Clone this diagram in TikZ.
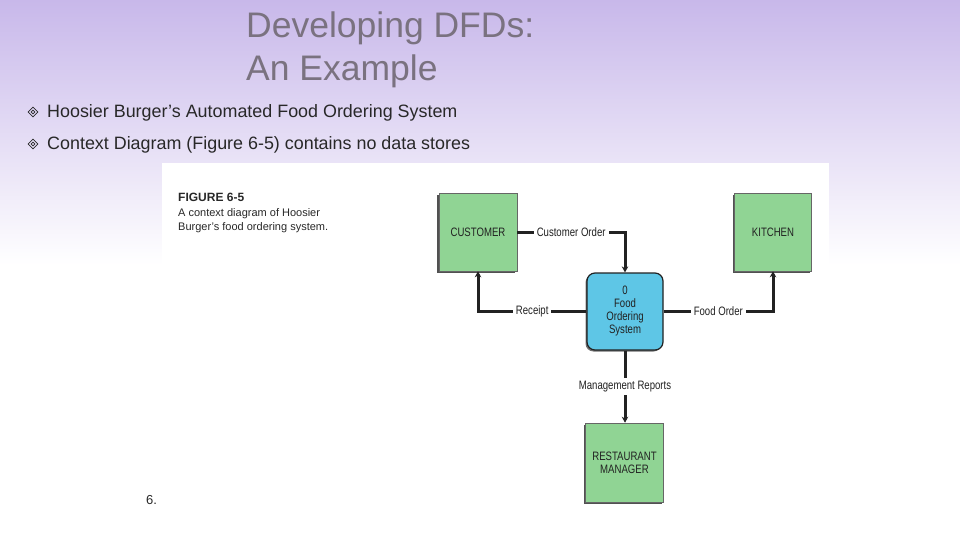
\documentclass[tikz,border=0pt]{standalone}
\usepackage{fontspec}
\usepackage{graphicx}
\setmainfont{Liberation Sans}
\usetikzlibrary{arrows.meta,shapes.geometric,shadows}
\definecolor{bgtop}{RGB}{200,184,234}
\definecolor{titlegray}{RGB}{122,114,128}
\definecolor{bodyink}{RGB}{40,40,40}
\definecolor{dfdgreen}{RGB}{144,212,148}
\definecolor{dfdblue}{RGB}{94,198,230}
\definecolor{ink}{RGB}{34,34,34}
\newcommand\talltxt[1]{\scalebox{0.96}[1.22]{#1}}
\tikzset{
  titletext/.style={anchor=base west, inner sep=0pt, text=titlegray, font=\fontsize{35.5}{40}\selectfont},
  bullettext/.style={anchor=base west, inner sep=0pt, text=bodyink, font=\fontsize{17.9}{20}\selectfont},
  bulletmark/.style={diamond, draw=bodyink, line width=0.7pt, minimum size=10pt, inner sep=0pt},
  bulletinner/.style={diamond, draw=bodyink, line width=0.6pt, minimum size=4pt, inner sep=0pt},
  captext/.style={anchor=base west, inner sep=0pt, text=bodyink, font=\fontsize{11}{13}\selectfont},
  extent/.style={rectangle, fill=dfdgreen, draw=black!60, line width=0.6pt,
    drop shadow={shadow xshift=-2pt, shadow yshift=-2pt, opacity=0.85, fill=black!80},
    text=ink, font=\fontsize{10}{13}\selectfont, align=center},
  process/.style={rectangle, rounded corners=8pt, fill=dfdblue, draw=ink, line width=1.2pt,
    drop shadow={shadow xshift=-1.5pt, shadow yshift=-1.5pt, opacity=0.7, fill=black!80},
    text=ink, font=\fontsize{10}{13}\selectfont, align=center},
  flow/.style={draw=ink, line width=3pt, -{Stealth[length=6pt,width=6.5pt]}},
  flowlab/.style={fill=white, inner xsep=3pt, inner ysep=1pt, text=ink, font=\fontsize{10}{12}\selectfont}
}
\begin{document}
\begin{tikzpicture}[x=1pt,y=-1pt]
\useasboundingbox (0,0) rectangle (960,540);
\shade[top color=bgtop, bottom color=white] (0,0) rectangle (960,265);
\fill[white] (162,163) rectangle (829,540);

% title
\node[titletext] (t1) at (246,38) {Developing DFDs:};
\node[titletext] (t2) at (246,81) {An Example};

% bullets
\node[bulletmark] (b1) at (33,112) {};
\node[bulletinner] (b1i) at (b1.center) {};
\node[bullettext] (l1) at (47,118) {Hoosier Burger’s Automated Food Ordering System};
\node[bulletmark] (b2) at (33,144) {};
\node[bulletinner] (b2i) at (b2.center) {};
\node[bullettext] (l2) at (47,150) {Context Diagram (Figure 6-5) contains no data stores};

% caption
\node[captext, font=\bfseries\fontsize{12}{14}\selectfont] (fig) at (178,201) {FIGURE 6-5};
\node[captext] (c1) at (178,216) {A context diagram of Hoosier};
\node[captext] (c2) at (178,230) {Burger’s food ordering system.};

% page number
\node[anchor=base west, inner sep=0pt, text=bodyink, font=\fontsize{13}{15}\selectfont] (pg) at (146,504) {6.};

% DFD
\node[extent, minimum width=78pt, minimum height=78pt] (cust) at (478,232) {\talltxt{CUSTOMER}};
\node[extent, minimum width=77pt, minimum height=78pt] (kit) at (773,232) {\talltxt{KITCHEN}};
\node[process, minimum width=76pt, minimum height=77pt] (proc) at (625,311.5) {\talltxt{0}\\\talltxt{Food}\\\talltxt{Ordering}\\\talltxt{System}};
\node[extent, minimum width=78pt, minimum height=79pt] (mgr) at (624.5,462.5) {\talltxt{RESTAURANT}\\\talltxt{MANAGER}};

\draw[flow] (cust.east) -- node[flowlab]{\talltxt{Customer Order}} (cust.east -| proc.north) -- (proc.north);
\draw[flow] (proc.west) -- node[flowlab]{\talltxt{Receipt}} (proc.west -| cust.south) -- (cust.south);
\draw[flow] (proc.east) -- node[flowlab]{\talltxt{Food Order}} (proc.east -| kit.south) -- (kit.south);
\draw[flow] (proc.south) -- node[flowlab, inner ysep=3pt]{\talltxt{Management Reports}} (proc.south |- mgr.north);
\end{tikzpicture}
\end{document}
